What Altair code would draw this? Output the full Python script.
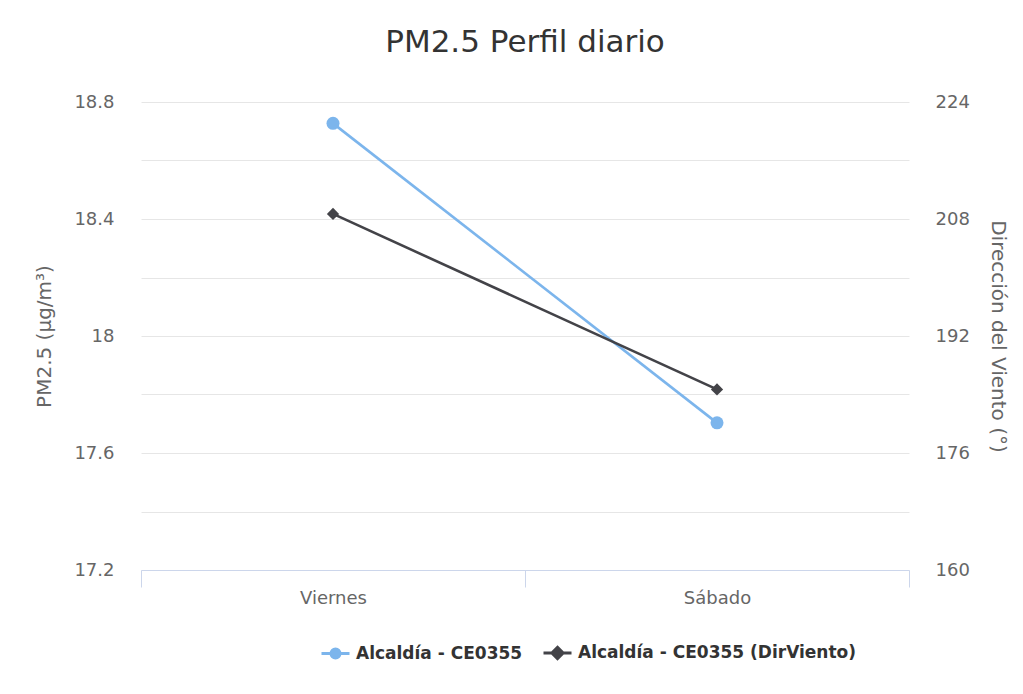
import altair as alt
import pandas as pd

# ---- data ----
dias = ["Viernes", "Sábado"]
pm25 = [18.727, 17.703]
dir_viento = [208.7, 184.7]
series = ["Alcaldía - CE0355", "Alcaldía - CE0355 (DirViento)"]
colores = ["#7cb5ec", "#434348"]
y_left_values = [17.2, 17.4, 17.6, 17.8, 18.0, 18.2, 18.4, 18.6, 18.8]
y_right_values = [160, 176, 192, 208, 224]

FONT = "DejaVu Sans"

df = pd.DataFrame({"dia": dias, "pm25": pm25, "dir": dir_viento})
leg = pd.DataFrame({"serie": series})

x_enc = alt.X(
    "dia:N",
    sort=dias,
    scale=alt.Scale(type="band", paddingInner=0, paddingOuter=0),
    axis=alt.Axis(
        title=None, labelAngle=0, labelFont=FONT, labelFontSize=18, labelColor="#666666",
        domainColor="#ccd6eb", domainWidth=1, tickColor="#ccd6eb", tickSize=17,
        tickBand="extent", labelPadding=2, grid=False,
    ),
)

y_left = alt.Y(
    "pm25:Q",
    scale=alt.Scale(domain=[17.2, 18.8], nice=False, zero=False),
    axis=alt.Axis(
        title="PM2.5 (µg/m³)", values=y_left_values,
        labelExpr="round(datum.value*10) % 4 == 0 ? format(datum.value, '.1~f') : ''",
        labelFont=FONT, labelFontSize=18, labelColor="#666666", labelPadding=27,
        ticks=False, tickSize=0, domain=False, grid=True, gridColor="#e6e6e6", gridWidth=1,
        titleFont=FONT, titleFontSize=20, titleFontWeight="normal", titleColor="#666666",
        titleX=-97, titleY=234, titleAngle=-90, titleAlign="center", titleBaseline="middle",
    ),
)

y_right = alt.Y(
    "dir:Q",
    scale=alt.Scale(domain=[160, 224], nice=False, zero=False),
    axis=alt.Axis(
        orient="right", title="Dirección del Viento (°)", values=y_right_values,
        labelFont=FONT, labelFontSize=18, labelColor="#666666", labelPadding=26,
        ticks=False, tickSize=0, domain=False, grid=False,
        titleFont=FONT, titleFontSize=20, titleFontWeight="normal", titleColor="#666666",
        titleX=88, titleY=234, titleAngle=90, titleAlign="center", titleBaseline="middle",
    ),
)

base = alt.Chart(df)

left = alt.layer(
    base.mark_line(color=colores[0], strokeWidth=2.6).encode(x=x_enc, y=y_left),
    base.mark_point(filled=True, shape="circle", size=169, color=colores[0], opacity=1).encode(x=x_enc, y=y_left),
)

right = alt.layer(
    base.mark_line(color=colores[1], strokeWidth=2.6).encode(x=x_enc, y=y_right),
    base.mark_point(filled=True, shape="diamond", size=150, color=colores[1], opacity=1).encode(x=x_enc, y=y_right),
)

path_circle = "M-1,0L1,0M-0.32,0A0.32,0.32,0,1,1,0.32,0A0.32,0.32,0,1,1,-0.32,0Z"
path_diamond = "M-1,0L1,0M0,-0.4L0.4,0L0,0.4L-0.4,0Z"


def make_legend():
    return alt.Legend(
        title=None, orient="none", legendX=179, legendY=535, direction="horizontal", columns=2,
        symbolSize=784, symbolStrokeWidth=3, labelFont=FONT, labelFontSize=17,
        labelFontWeight="bold", labelColor="#333333", labelOffset=5, columnPadding=14,
        padding=0, labelLimit=400,
    )


legend_layer = (
    alt.Chart(leg)
    .transform_filter("false")
    .mark_point(filled=True, opacity=1, size=784, strokeWidth=3)
    .encode(
        fill=alt.Fill("serie:N", scale=alt.Scale(domain=series, range=colores), legend=make_legend()),
        stroke=alt.Stroke("serie:N", scale=alt.Scale(domain=series, range=colores), legend=make_legend()),
        shape=alt.Shape("serie:N", scale=alt.Scale(domain=series, range=[path_circle, path_diamond]),
                        legend=make_legend()),
    )
)

chart = (
    alt.layer(left, right, legend_layer)
    .resolve_scale(y="independent")
    .properties(
        width=768,
        height=468,
        background="white",
        autosize=alt.AutoSizeParams(type="none"),
        padding={"left": 133, "top": 94, "right": 106, "bottom": 116},
        title=alt.Title(
            "PM2.5 Perfil diario", font=FONT, fontSize=31, fontWeight="normal",
            color="#333333", anchor="middle", frame="group", offset=34,
        ),
    )
    .configure_view(stroke="transparent", strokeWidth=0)
)

chart.save("out.html", embed_options={"renderer": "svg", "actions": False})
